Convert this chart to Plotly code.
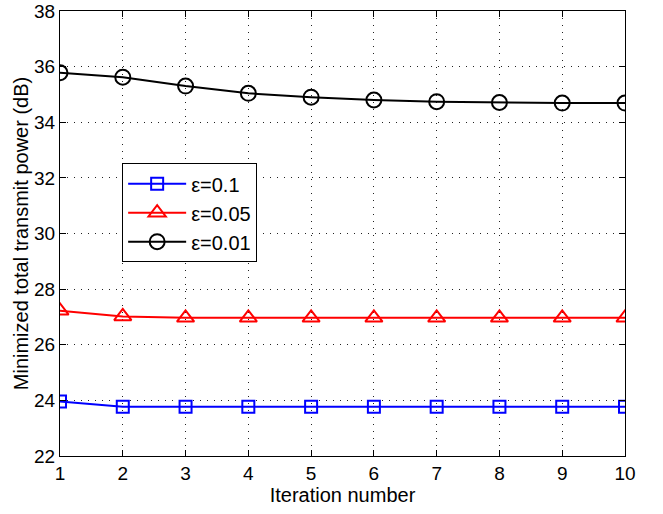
import plotly.graph_objects as go

iterations = [1, 2, 3, 4, 5, 6, 7, 8, 9, 10]
eps_01 = [23.96, 23.77, 23.77, 23.77, 23.77, 23.77, 23.77, 23.77, 23.77, 23.77]
eps_005 = [27.22, 27.02, 26.97, 26.97, 26.97, 26.97, 26.97, 26.97, 26.97, 26.97]
eps_001 = [35.78, 35.62, 35.3, 35.04, 34.9, 34.8, 34.74, 34.71, 34.69, 34.69]
names = ["ε=0.1", "ε=0.05", "ε=0.01"]
colors = ["#0000ff", "#ff0000", "#000000"]
symbols = ["square-open", "triangle-up-open", "circle-open"]
sizes = [12, 15, 15]
y_ticks = [22, 24, 26, 28, 30, 32, 34, 36, 38]

fig = go.Figure()
for vals, name, c, s, sz in zip([eps_01, eps_005, eps_001], names, colors, symbols, sizes):
    fig.add_trace(go.Scatter(
        x=iterations, y=vals, name=name, mode="lines+markers",
        line=dict(color=c, width=2),
        marker=dict(symbol=s, size=sz, color=c, line=dict(width=2, color=c)),
    ))

fam = "Liberation Sans, Arial, sans-serif"
tick_font = dict(family=fam, size=19, color="black")
title_font = dict(family=fam, size=20, color="black")
axis_common = dict(
    showline=True, linecolor="black", linewidth=1, mirror="ticks",
    ticks="inside", ticklen=6, tickcolor="black",
    showgrid=True, gridcolor="#222222", griddash="1px,6px", gridwidth=1,
    zeroline=False, tickfont=tick_font, automargin=False,
)
fig.update_layout(
    width=663, height=514,
    margin=dict(l=60, r=38, t=11, b=58),
    paper_bgcolor="white", plot_bgcolor="white",
    font=tick_font,
    showlegend=True,
    legend=dict(x=0.11, y=0.658, xanchor="left", yanchor="top",
                bordercolor="black", borderwidth=1, bgcolor="white",
                font=dict(family=fam, size=20, color="black"),
                itemwidth=58),
    xaxis=dict(range=[1, 10], tickvals=iterations,
               title=dict(text="Iteration number", font=title_font, standoff=4),
               **axis_common),
    yaxis=dict(range=[22, 38], tickvals=y_ticks,
               title=dict(text="Minimized total transmit power (dB)", font=title_font, standoff=0),
               **axis_common),
)
fig.write_html("out.html", config={"displayModeBar": False},
               post_script="document.body.style.margin='0';")
